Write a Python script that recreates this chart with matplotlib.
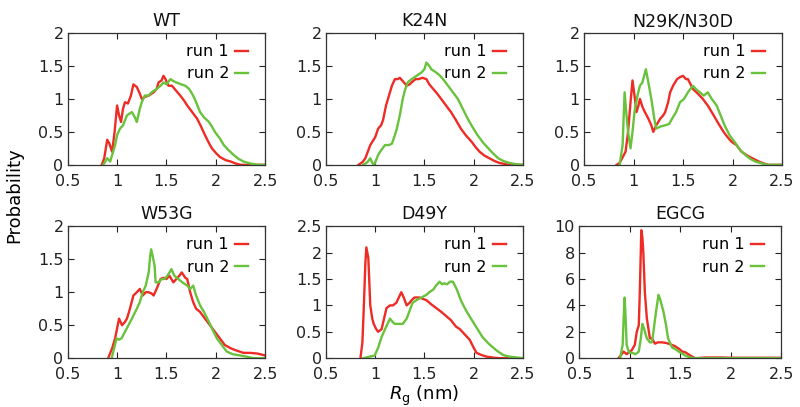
import matplotlib.pyplot as plt

plt.rcParams['font.family'] = 'DejaVu Sans'
plt.rcParams['axes.linewidth'] = 0.9

RED = '#ee2b24'
GREEN = '#68c23c'

# Rg (nm) / probability values
wt_x1 = [0.845, 0.87, 0.9, 0.92, 0.95, 0.975, 1.0, 1.02, 1.04, 1.06, 1.08, 1.11, 1.14, 1.165, 1.2, 1.23,
         1.25, 1.28, 1.32, 1.35, 1.37, 1.40, 1.42, 1.45, 1.47, 1.49, 1.52, 1.555, 1.6, 1.64, 1.68, 1.71,
         1.76, 1.81, 1.85, 1.89, 1.93, 1.96, 2.0, 2.04, 2.1, 2.15, 2.2, 2.25, 2.35, 2.5]
wt_y1 = [0.0, 0.1, 0.38, 0.33, 0.2, 0.5, 0.9, 0.75, 0.65, 0.85, 0.95, 0.93, 1.05, 1.22, 1.18, 1.08,
         1.0, 1.03, 1.05, 1.08, 1.1, 1.15, 1.25, 1.28, 1.35, 1.3, 1.2, 1.2, 1.12, 1.05, 0.97, 0.9,
         0.8, 0.7, 0.58, 0.45, 0.33, 0.25, 0.18, 0.12, 0.07, 0.05, 0.02, 0.0, 0.0, 0.0]
wt_x2 = [0.86, 0.88, 0.9, 0.93, 0.96, 0.98, 1.0, 1.03, 1.06, 1.1, 1.13, 1.15, 1.18, 1.2, 1.23, 1.25,
         1.28, 1.32, 1.35, 1.4, 1.44, 1.47, 1.5, 1.54, 1.57, 1.6, 1.65, 1.69, 1.73, 1.77, 1.8, 1.84,
         1.88, 1.93, 1.96, 1.99, 2.04, 2.08, 2.13, 2.18, 2.23, 2.28, 2.35, 2.42, 2.5]
wt_y2 = [0.0, 0.05, 0.1, 0.05, 0.2, 0.3, 0.45, 0.55, 0.6, 0.75, 0.78, 0.8, 0.72, 0.65, 0.85, 0.95,
         1.05, 1.05, 1.1, 1.15, 1.2, 1.25, 1.22, 1.3, 1.27, 1.25, 1.22, 1.2, 1.15, 1.05, 0.95, 0.8,
         0.72, 0.65, 0.58, 0.5, 0.4, 0.3, 0.22, 0.15, 0.09, 0.05, 0.02, 0.0, 0.0]

k24n_x1 = [0.83, 0.87, 0.9, 0.95, 1.0, 1.03, 1.06, 1.08, 1.11, 1.14, 1.17, 1.2, 1.23, 1.25, 1.28, 1.32,
           1.35, 1.37, 1.41, 1.44, 1.48, 1.52, 1.55, 1.59, 1.63, 1.67, 1.72, 1.77, 1.82, 1.87, 1.92,
           1.98, 2.02, 2.06, 2.11, 2.16, 2.21, 2.26, 2.36, 2.5]
k24n_y1 = [0.0, 0.04, 0.1, 0.3, 0.42, 0.55, 0.6, 0.68, 0.9, 1.05, 1.2, 1.3, 1.3, 1.32, 1.27, 1.2,
           1.22, 1.25, 1.3, 1.3, 1.32, 1.3, 1.22, 1.15, 1.08, 1.0, 0.9, 0.8, 0.68, 0.55, 0.45,
           0.35, 0.27, 0.2, 0.14, 0.1, 0.06, 0.03, 0.0, 0.0]
k24n_x2 = [0.88, 0.92, 0.95, 0.97, 0.99, 1.03, 1.06, 1.1, 1.14, 1.17, 1.2, 1.22, 1.25, 1.28, 1.3,
           1.33, 1.37, 1.42, 1.47, 1.5, 1.52, 1.55, 1.57, 1.62, 1.66, 1.7, 1.74, 1.79, 1.84, 1.89,
           1.94, 1.99, 2.04, 2.1, 2.15, 2.2, 2.25, 2.3, 2.36, 2.43, 2.5]
k24n_y2 = [0.0, 0.04, 0.1, 0.03, 0.0, 0.15, 0.22, 0.3, 0.3, 0.32, 0.45, 0.55, 0.75, 1.0, 1.12,
           1.25, 1.3, 1.35, 1.4, 1.45, 1.55, 1.5, 1.45, 1.4, 1.35, 1.28, 1.2, 1.1, 1.0, 0.85,
           0.7, 0.57, 0.45, 0.33, 0.25, 0.17, 0.1, 0.06, 0.03, 0.01, 0.0]

n29k_x1 = [0.83, 0.86, 0.885, 0.92, 0.945, 0.97, 0.99, 1.01, 1.03, 1.05, 1.065, 1.09, 1.115, 1.15,
           1.18, 1.2, 1.23, 1.27, 1.3, 1.32, 1.35, 1.37, 1.4, 1.44, 1.47, 1.5, 1.53, 1.55, 1.6,
           1.65, 1.7, 1.75, 1.81, 1.86, 1.91, 1.95, 1.99, 2.04, 2.09, 2.15, 2.2, 2.28, 2.36, 2.5]
n29k_y1 = [0.0, 0.03, 0.1, 0.2, 0.5, 0.95, 1.28, 1.05, 0.8, 0.9, 1.0, 0.88, 0.8, 0.7,
           0.6, 0.5, 0.6, 0.7, 0.75, 0.8, 0.95, 1.1, 1.2, 1.3, 1.33, 1.35, 1.3, 1.3, 1.15,
           1.08, 1.0, 0.9, 0.75, 0.62, 0.5, 0.42, 0.35, 0.3, 0.2, 0.14, 0.1, 0.04, 0.0, 0.0]
n29k_x2 = [0.86, 0.89, 0.91, 0.93, 0.945, 0.97, 0.99, 1.01, 1.04, 1.065, 1.09, 1.125, 1.15, 1.18,
           1.21, 1.23, 1.27, 1.32, 1.36, 1.39, 1.43, 1.47, 1.51, 1.55, 1.6, 1.63, 1.67, 1.71,
           1.75, 1.79, 1.84, 1.88, 1.92, 1.97, 2.02, 2.08, 2.13, 2.18, 2.23, 2.3, 2.36, 2.5]
n29k_y2 = [0.0, 0.3, 1.1, 0.75, 0.5, 0.25, 0.5, 0.8, 1.05, 1.2, 1.25, 1.45, 1.25, 1.0,
           0.7, 0.55, 0.58, 0.6, 0.62, 0.7, 0.8, 0.95, 1.0, 1.1, 1.2, 1.15, 1.1, 1.05,
           1.1, 1.0, 0.9, 0.75, 0.6, 0.45, 0.35, 0.22, 0.15, 0.09, 0.05, 0.02, 0.0, 0.0]

w53g_x1 = [0.91, 0.95, 0.98, 1.0, 1.02, 1.05, 1.08, 1.1, 1.13, 1.165, 1.2, 1.23, 1.26, 1.29, 1.32,
           1.35, 1.37, 1.4, 1.44, 1.47, 1.5, 1.53, 1.57, 1.6, 1.63, 1.655, 1.69, 1.71, 1.74, 1.77,
           1.8, 1.84, 1.89, 1.94, 1.99, 2.04, 2.09, 2.15, 2.2, 2.28, 2.35, 2.42, 2.5]
w53g_y1 = [0.0, 0.15, 0.3, 0.45, 0.6, 0.5, 0.55, 0.6, 0.75, 0.95, 1.0, 1.05, 0.95, 1.0, 1.0,
           0.98, 0.95, 1.05, 1.2, 1.22, 1.2, 1.25, 1.15, 1.2, 1.25, 1.3, 1.22, 1.2, 1.0, 0.85,
           0.75, 0.7, 0.6, 0.5, 0.4, 0.3, 0.2, 0.15, 0.12, 0.08, 0.08, 0.07, 0.04]
w53g_x2 = [0.945, 0.97, 0.995, 1.02, 1.045, 1.08, 1.115, 1.15, 1.2, 1.23, 1.26, 1.29, 1.32, 1.335,
           1.345, 1.36, 1.38, 1.39, 1.42, 1.45, 1.48, 1.51, 1.55, 1.58, 1.62, 1.66, 1.71, 1.74,
           1.77, 1.8, 1.84, 1.88, 1.93, 1.97, 2.01, 2.06, 2.11, 2.17, 2.25, 2.32, 2.38, 2.5]
w53g_y2 = [0.0, 0.15, 0.3, 0.28, 0.3, 0.4, 0.5, 0.6, 0.75, 0.85, 1.0, 1.1, 1.3, 1.55,
           1.65, 1.55, 1.4, 1.15, 1.15, 1.2, 1.2, 1.25, 1.35, 1.25, 1.2, 1.15, 1.1, 1.05,
           1.1, 0.95, 0.8, 0.7, 0.55, 0.42, 0.3, 0.2, 0.1, 0.06, 0.04, 0.02, 0.0, 0.0]

d49y_x1 = [0.85, 0.87, 0.885, 0.9, 0.91, 0.93, 0.95, 0.97, 0.985, 1.01, 1.03, 1.065, 1.09, 1.115,
           1.15, 1.18, 1.215, 1.24, 1.265, 1.29, 1.32, 1.35, 1.37, 1.4, 1.45, 1.49, 1.52, 1.57,
           1.62, 1.67, 1.72, 1.77, 1.82, 1.86, 1.91, 1.96, 2.0, 2.03, 2.08, 2.13, 2.2, 2.26, 2.5]
d49y_y1 = [0.0, 0.3, 1.0, 1.8, 2.1, 1.9, 1.0, 0.75, 0.65, 0.55, 0.5, 0.55, 0.75, 0.95,
           1.0, 1.0, 1.05, 1.15, 1.25, 1.15, 1.0, 1.05, 1.1, 1.15, 1.15, 1.12, 1.1, 1.02,
           0.95, 0.88, 0.8, 0.72, 0.6, 0.55, 0.45, 0.35, 0.2, 0.1, 0.06, 0.03, 0.01, 0.0, 0.0]
d49y_x2 = [0.88, 0.945, 0.995, 1.03, 1.065, 1.1, 1.15, 1.18, 1.2, 1.24, 1.28, 1.32, 1.35, 1.38,
           1.42, 1.47, 1.52, 1.55, 1.59, 1.62, 1.655, 1.68, 1.7, 1.73, 1.76, 1.79, 1.83, 1.87,
           1.91, 1.95, 1.99, 2.04, 2.09, 2.15, 2.23, 2.3, 2.36, 2.5]
d49y_y2 = [0.0, 0.03, 0.05, 0.2, 0.4, 0.55, 0.75, 0.68, 0.65, 0.65, 0.65, 0.75, 0.9, 1.05,
           1.1, 1.15, 1.2, 1.25, 1.3, 1.38, 1.45, 1.4, 1.42, 1.4, 1.45, 1.45, 1.3, 1.1,
           0.95, 0.82, 0.7, 0.55, 0.4, 0.28, 0.15, 0.06, 0.03, 0.0]

egcg_x1 = [0.89, 0.92, 0.94, 0.97, 1.0, 1.02, 1.05, 1.07, 1.09, 1.1, 1.115, 1.125, 1.135, 1.15,
           1.17, 1.2, 1.22, 1.25, 1.28, 1.32, 1.36, 1.385, 1.42, 1.45, 1.49, 1.52, 1.55, 1.58,
           1.62, 1.65, 1.75, 1.85, 1.91, 2.0, 2.5]
egcg_y1 = [0.0, 0.3, 0.5, 0.3, 0.5, 0.6, 1.0, 2.0, 2.5, 5.0, 9.7, 9.2, 8.0, 5.0,
           3.0, 1.5, 1.5, 1.1, 1.2, 1.2, 1.15, 1.1, 1.0, 0.9, 0.7, 0.5, 0.45, 0.3,
           0.1, 0.0, 0.05, 0.05, 0.05, 0.03, 0.03]
egcg_x2 = [0.905, 0.93, 0.94, 0.95, 0.96, 0.97, 0.99, 1.005, 1.03, 1.055, 1.075, 1.09, 1.11,
           1.125, 1.14, 1.17, 1.2, 1.22, 1.235, 1.26, 1.285, 1.3, 1.335, 1.36, 1.38, 1.42,
           1.45, 1.485, 1.52, 1.55, 1.6, 1.63, 1.7, 2.5]
egcg_y2 = [0.0, 1.0, 3.0, 4.6, 3.0, 1.0, 0.5, 0.4, 0.4, 0.3, 0.4, 0.5, 1.5,
           2.6, 2.3, 1.5, 1.2, 1.2, 2.0, 3.5, 4.8, 4.5, 3.5, 2.5, 1.5, 0.8,
           0.7, 0.5, 0.35, 0.2, 0.05, 0.0, 0.0, 0.0]

titles = ['WT', 'K24N', 'N29K/N30D', 'W53G', 'D49Y', 'EGCG']
runs1 = [(wt_x1, wt_y1), (k24n_x1, k24n_y1), (n29k_x1, n29k_y1),
         (w53g_x1, w53g_y1), (d49y_x1, d49y_y1), (egcg_x1, egcg_y1)]
runs2 = [(wt_x2, wt_y2), (k24n_x2, k24n_y2), (n29k_x2, n29k_y2),
         (w53g_x2, w53g_y2), (d49y_x2, d49y_y2), (egcg_x2, egcg_y2)]
ymax = [2, 2, 2, 2, 2.5, 10]
ytick_sets = [[0, 0.5, 1, 1.5, 2], [0, 0.5, 1, 1.5, 2], [0, 0.5, 1, 1.5, 2],
              [0, 0.5, 1, 1.5, 2], [0, 0.5, 1, 1.5, 2, 2.5], [0, 2, 4, 6, 8, 10]]
xticks = [0.5, 1, 1.5, 2, 2.5]

# axes rectangles in figure fractions
rects = [[0.0846, 0.595, 0.247, 0.324], [0.4075, 0.595, 0.246, 0.324], [0.730, 0.595, 0.2475, 0.324],
         [0.0846, 0.120, 0.247, 0.324], [0.4075, 0.120, 0.246, 0.324], [0.724, 0.120, 0.2525, 0.324]]

fig = plt.figure(figsize=(8.0, 4.07), dpi=100)

for i in range(6):
    ax = fig.add_axes(rects[i])
    ax.plot(runs1[i][0], runs1[i][1], color=RED, lw=1.7, label='run 1')
    ax.plot(runs2[i][0], runs2[i][1], color=GREEN, lw=1.7, label='run 2')
    ax.set_xlim(0.5, 2.5)
    ax.set_ylim(0, ymax[i])
    ax.set_xticks(xticks)
    ax.set_xticklabels(['0.5', '1', '1.5', '2', '2.5'])
    ax.set_yticks(ytick_sets[i])
    ax.set_yticklabels(['%g' % v for v in ytick_sets[i]])
    ax.tick_params(direction='in', length=4.5, width=0.8, top=True, right=True,
                   labelsize=11.5, colors='#222222')
    ax.tick_params(axis='x', pad=6.5)
    ax.tick_params(axis='y', pad=3)
    for s in ax.spines.values():
        s.set_color('#333333')
    ax.set_title(titles[i], fontsize=12.5, pad=5, color='#111111')
    ax.legend(loc='upper right', frameon=False, markerfirst=False, handlelength=0.8,
              handletextpad=0.4, fontsize=11.5, labelspacing=0.45, borderaxespad=0.3,
              bbox_to_anchor=(0.97, 1.0))

fig.text(0.018, 0.52, 'Probability', rotation=90, ha='center', va='center', fontsize=13)
fig.text(0.53, 0.028, r'$R_{\mathrm{g}}$ (nm)', ha='center', va='center', fontsize=13)

plt.savefig('out.png', dpi=100)
plt.close()
